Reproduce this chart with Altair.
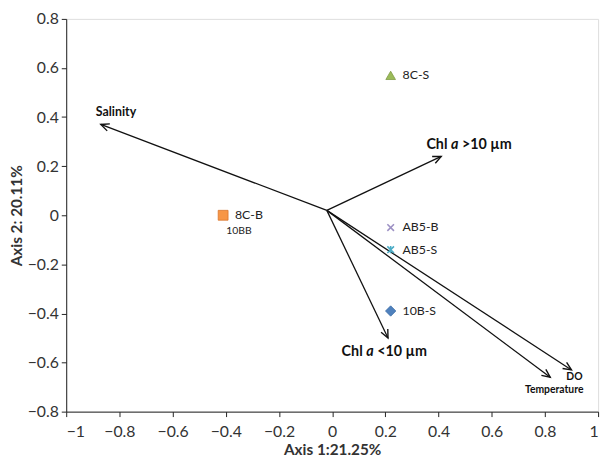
import altair as alt
import pandas as pd
import numpy as np

# ---- data ----
sites = ["8C-S", "8C-B", "AB5-B", "AB5-S", "10B-S"]
site_x = [0.22, -0.41, 0.22, 0.22, 0.22]
site_y = [0.57, 0.00, -0.05, -0.14, -0.39]
site_sub = ["", "10BB", "", "", ""]

variables = ["Salinity", "Chl a >10 µm", "Chl a <10 µm", "DO", "Temperature"]
origin_x = -0.02
origin_y = 0.02
end_x = [-0.87, 0.41, 0.21, 0.90, 0.82]
end_y = [0.37, 0.24, -0.50, -0.63, -0.66]

x_ticks = [-1, -0.8, -0.6, -0.4, -0.2, 0, 0.2, 0.4, 0.6, 0.8, 1]
y_ticks = [-0.8, -0.6, -0.4, -0.2, 0, 0.2, 0.4, 0.6, 0.8]

FONT = "Lato"
W, H = 539, 398
XD = [-1, 1]
YD = [-0.8, 0.8]
sx = W / (XD[1] - XD[0])
sy = H / (YD[1] - YD[0])

pts = pd.DataFrame({"site": sites, "x": site_x, "y": site_y, "sub": site_sub})
arr = pd.DataFrame({"var": variables, "x0": origin_x, "y0": origin_y, "x": end_x, "y": end_y})
arr["ang"] = (np.degrees(np.arctan2((arr["x"] - arr["x0"]) * sx, (arr["y"] - arr["y0"]) * sy))) % 360

xs = alt.Scale(domain=XD, nice=False, zero=False)
ys = alt.Scale(domain=YD, nice=False, zero=False)

xax = alt.Axis(values=x_ticks, format="~g", grid=False, title="Axis 1:21.25%",
               titleFontSize=15.5, titleFont=FONT, titleFontWeight="bold", titleColor="#333",
               labelFont=FONT, labelFontSize=16, labelColor="#333", domainColor="#222",
               tickColor="#222", tickSize=5, labelPadding=7, titlePadding=3)
yax = alt.Axis(values=y_ticks, format="~g", grid=False, title="Axis 2: 20.11%",
               titleFontSize=15.5, titleFont=FONT, titleFontWeight="bold", titleColor="#333",
               labelFont=FONT, labelFontSize=16, labelColor="#333", domainColor="#222",
               tickColor="#222", tickSize=5, labelPadding=3, titlePadding=3)

base_x = alt.X("x:Q", scale=xs, axis=xax)
base_y = alt.Y("y:Q", scale=ys, axis=yax)

lines = alt.Chart(arr).mark_rule(color="#111", strokeWidth=1.3).encode(
    x=alt.X("x0:Q", scale=xs, axis=xax), y=alt.Y("y0:Q", scale=ys, axis=yax),
    x2="x:Q", y2="y:Q")

heads = alt.Chart(arr).mark_point(
    shape="M-0.9,2L0,0L0.9,2", filled=False, color="#111", strokeWidth=1.4, size=70, opacity=1
).encode(x=base_x, y=base_y, angle=alt.Angle("ang:Q", scale=None))

def vlabel(name, dx, dy, size, align="left", style="normal"):
    return alt.Chart(arr[arr["var"] == name]).mark_text(
        align=align, baseline="middle", dx=dx, dy=dy, font=FONT, fontSize=size,
        fontWeight="bold", fontStyle=style, color="#111"
    ).encode(x=base_x, y=base_y, text="var:N")

def vtext(name, txt, dx, dy, size, style="normal"):
    d = arr[arr["var"] == name].assign(t=txt)
    return alt.Chart(d).mark_text(
        align="left", baseline="middle", dx=dx, dy=dy, font=FONT, fontSize=size,
        fontWeight="bold", fontStyle=style, color="#111"
    ).encode(x=base_x, y=base_y, text="t:N")

labels = [
    vlabel("Salinity", -5, -13, 12.5),
    vtext("Chl a >10 µm", "Chl", -15, -11, 14.5),
    vtext("Chl a >10 µm", "a", 10, -11, 14.5, "italic"),
    vtext("Chl a >10 µm", ">10 µm", 21, -11, 14.5),
    vtext("Chl a <10 µm", "Chl", -47, 14, 14.5),
    vtext("Chl a <10 µm", "a", -22, 14, 14.5, "italic"),
    vtext("Chl a <10 µm", "<10 µm", -11, 14, 14.5),
    vlabel("DO", 3, 7, 10.5, align="center"),
    vlabel("Temperature", 4, 13, 10.5, align="center"),
]

marker_shapes = {
    "8C-S": ("triangle-up", "#9BBB59", "#7f9a45", True, 95),
    "8C-B": ("square", "#F79646", "#d9752b", True, 100),
    "AB5-B": ("M-1,-1L1,1M-1,1L1,-1", "#9D91C4", "#9D91C4", False, 45),
    "AB5-S": ("M-1,-1L1,1M-1,1L1,-1M0,-1.1L0,1.1", "#4BACC6", "#4BACC6", False, 45),
    "10B-S": ("diamond", "#4F81BD", "#3d6ea8", True, 110),
}
markers = []
for s, (shp, fillc, strokec, filled, sz) in marker_shapes.items():
    d = pts[pts["site"] == s]
    if filled:
        m = alt.Chart(d).mark_point(shape=shp, filled=True, fill=fillc, stroke=strokec,
                                    strokeWidth=0.8, size=sz, opacity=1)
    else:
        m = alt.Chart(d).mark_point(shape=shp, filled=False, stroke=strokec,
                                    strokeWidth=1.6, size=sz, opacity=1)
    markers.append(m.encode(x=base_x, y=base_y))

site_text = alt.Chart(pts).mark_text(
    align="left", baseline="middle", dx=12, font=FONT, fontSize=12.5, color="#222"
).encode(x=base_x, y=base_y, text="site:N")

sub_text = alt.Chart(pts[pts["sub"] != ""]).mark_text(
    align="center", baseline="middle", dx=16, dy=16, font=FONT, fontSize=10.5, color="#222"
).encode(x=base_x, y=base_y, text="sub:N")

chart = alt.layer(lines, heads, *labels, *markers, site_text, sub_text).properties(
    width=W, height=H,
    autosize=alt.AutoSizeParams(type="none"),
    padding={"left": 59, "top": 8, "right": 7, "bottom": 50},
).configure_view(stroke=None).configure(background="white")

chart.save("out.html", embed_options={"renderer": "svg", "actions": False})
